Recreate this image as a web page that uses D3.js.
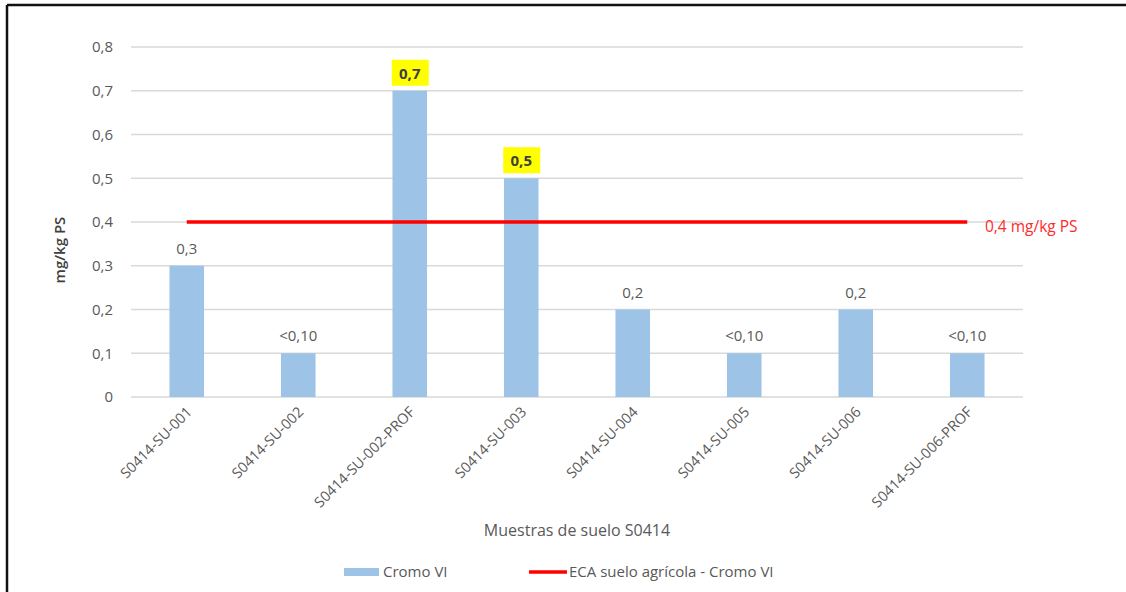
<!DOCTYPE html>
<html>
<head>
<meta charset="utf-8">
<script src="https://cdn.jsdelivr.net/npm/d3@7"></script>
<style>
    html, body { margin: 0; padding: 0; background: #fff; }
    svg text { font-family: "Open Sans", "Liberation Sans", sans-serif; }
</style>
</head>
<body>
<svg id="chart" width="1126" height="592"></svg>
<script>
// Cromo VI en muestras de suelo
var samples = ['S0414-SU-001', 'S0414-SU-002', 'S0414-SU-002-PROF', 'S0414-SU-003',
    'S0414-SU-004', 'S0414-SU-005', 'S0414-SU-006', 'S0414-SU-006-PROF'];
var cromoVI = [0.3, 0.1, 0.7, 0.5, 0.2, 0.1, 0.2, 0.1];
var valueLabels = ['0,3', '<0,10', '0,7', '0,5', '0,2', '<0,10', '0,2', '<0,10'];
var overLimit = [false, false, true, true, false, false, false, false];
var ecaLimit = 0.4;
var ecaLabel = '0,4 mg/kg PS';
var yTicks = [0, 0.1, 0.2, 0.3, 0.4, 0.5, 0.6, 0.7, 0.8];

var svg = d3.select('#chart');
var textColor = '#595959';

// frame of the pasted picture (only top and left edges show)
svg.append('line').attr('x1', 7).attr('y1', 5).attr('x2', 1126).attr('y2', 5)
    .attr('stroke', '#111').attr('stroke-width', 2.5);
svg.append('line').attr('x1', 7).attr('y1', 5).attr('x2', 7).attr('y2', 592)
    .attr('stroke', '#111').attr('stroke-width', 2.5);

var x = d3.scaleBand().domain(samples).range([131, 1023]).paddingInner(0.69).paddingOuter(0.345);
var y = d3.scaleLinear().domain([0, 0.8]).range([397, 47]);
var comma = function (v) { return v === 0 ? '0' : d3.format('.1f')(v).replace('.', ','); };

// gridlines
svg.append('g').selectAll('line').data(yTicks).enter().append('line')
    .attr('x1', 131).attr('x2', 1023)
    .attr('y1', function (d) { return y(d); }).attr('y2', function (d) { return y(d); })
    .attr('stroke', '#d9d9d9').attr('stroke-width', 1.3);

// y axis
var yAxis = svg.append('g').attr('transform', 'translate(131,0)')
    .call(d3.axisLeft(y).tickValues(yTicks).tickFormat(comma).tickSize(0).tickPadding(18));
yAxis.select('.domain').remove();
yAxis.selectAll('text').attr('fill', textColor).attr('font-size', 15);

svg.append('text')
    .attr('transform', 'translate(65,250) rotate(-90)')
    .attr('text-anchor', 'middle').attr('font-size', 15).attr('font-weight', 600)
    .attr('fill', '#404040').text('mg/kg PS');

// bars
svg.append('g').selectAll('rect').data(cromoVI).enter().append('rect')
    .attr('x', function (d, i) { return x(samples[i]); })
    .attr('y', function (d) { return y(d); })
    .attr('width', x.bandwidth())
    .attr('height', function (d) { return y(0) - y(d); })
    .attr('fill', '#9dc3e6');

// x axis
var xAxis = svg.append('g').attr('transform', 'translate(0,' + y(0) + ')')
    .call(d3.axisBottom(x).tickSize(0).tickPadding(0));
xAxis.select('.domain').remove();
xAxis.selectAll('text')
    .attr('fill', textColor).attr('font-size', 14.5)
    .attr('text-anchor', 'end')
    .attr('dy', 0)
    .attr('transform', 'translate(6,16) rotate(-45)');

svg.append('text').attr('x', 577).attr('y', 536).attr('text-anchor', 'middle')
    .attr('font-size', 16).attr('fill', textColor).text('Muestras de suelo S0414');

// data labels
var labels = svg.append('g').selectAll('g').data(cromoVI).enter().append('g')
    .attr('transform', function (d, i) {
        return 'translate(' + (x(samples[i]) + x.bandwidth() / 2) + ',' + (y(d) - 12) + ')';
    });
labels.filter(function (d, i) { return overLimit[i]; }).append('rect')
    .attr('x', -18).attr('y', -19).attr('width', 37).attr('height', 26)
    .attr('fill', '#ffff00');
labels.append('text')
    .attr('text-anchor', 'middle').attr('font-size', 15)
    .attr('fill', function (d, i) { return overLimit[i] ? '#404040' : textColor; })
    .attr('font-weight', function (d, i) { return overLimit[i] ? 'bold' : 'normal'; })
    .text(function (d, i) { return valueLabels[i]; });

// ECA limit line
var firstC = x(samples[0]) + x.bandwidth() / 2;
var lastC = x(samples[samples.length - 1]) + x.bandwidth() / 2;
svg.append('line').attr('x1', firstC).attr('x2', lastC)
    .attr('y1', y(ecaLimit)).attr('y2', y(ecaLimit))
    .attr('stroke', '#ff0000').attr('stroke-width', 3.5);
svg.append('text').attr('x', 985).attr('y', y(ecaLimit) + 10)
    .attr('font-size', 15.5).attr('fill', '#ff2a2a').text(ecaLabel);

// legend
var leg = svg.append('g').attr('transform', 'translate(0,572)');
leg.append('rect').attr('x', 344).attr('y', -4).attr('width', 35).attr('height', 8).attr('fill', '#9dc3e6');
leg.append('text').attr('x', 383).attr('y', 5).attr('font-size', 15).attr('fill', textColor).text('Cromo VI');
leg.append('line').attr('x1', 529).attr('x2', 567).attr('y1', 0).attr('y2', 0)
    .attr('stroke', '#ff0000').attr('stroke-width', 3.5);
leg.append('text').attr('x', 569).attr('y', 5).attr('font-size', 15).attr('fill', textColor)
    .text('ECA suelo agrícola - Cromo VI');
</script>
</body>
</html>
